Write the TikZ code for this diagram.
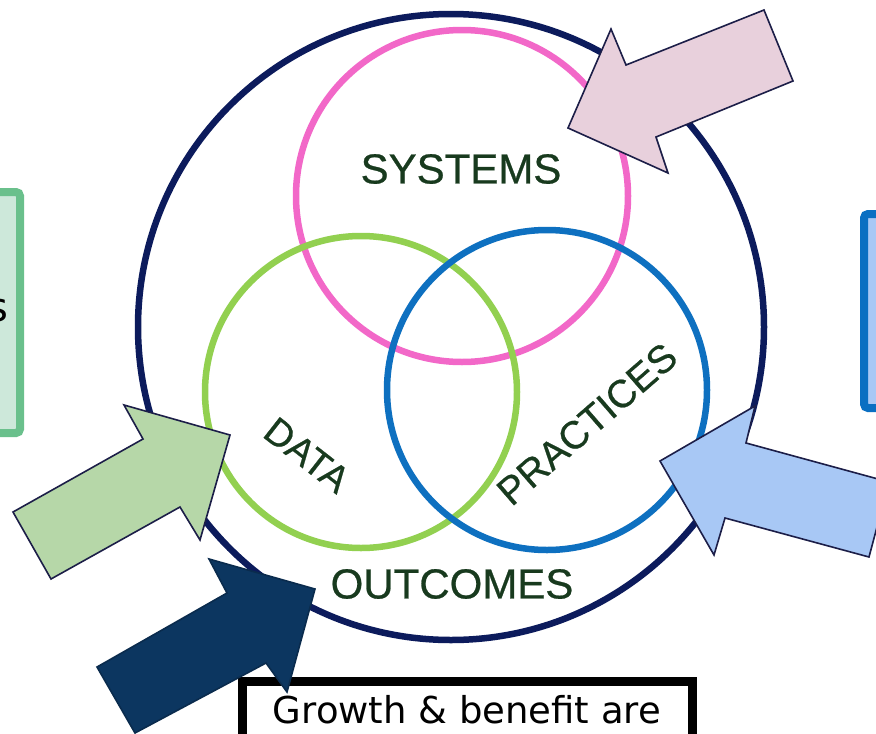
\documentclass[tikz,border=0pt]{standalone}
\usepackage{fontspec}
\setmainfont{Liberation Sans}
\newfontfamily\labelfont[FakeBold=0.6]{Liberation Sans}
\newfontfamily\boxfont{DejaVu Sans}
\definecolor{bignavy}{RGB}{12,27,92}
\definecolor{syspink}{RGB}{242,104,200}
\definecolor{datagreen}{RGB}{146,208,80}
\definecolor{pracblue}{RGB}{14,112,192}
\definecolor{labelgreen}{RGB}{24,58,30}
\definecolor{pinkfill}{RGB}{232,208,220}
\definecolor{greenfill}{RGB}{182,215,168}
\definecolor{bluefill}{RGB}{168,200,245}
\definecolor{navyfill}{RGB}{12,54,96}
\definecolor{arrowline}{RGB}{28,30,72}
\definecolor{gboxline}{RGB}{106,192,140}
\definecolor{gboxfill}{RGB}{205,232,218}
\definecolor{bboxline}{RGB}{10,111,194}
\tikzset{
  ring/.style={line width=6.5pt},
  vlabel/.style={text=labelgreen, font=\labelfont\fontsize{42}{48}\selectfont, inner sep=0pt},
  blockarrow/.style={draw=arrowline, line width=1.6pt, line join=miter},
  sidebox/.style={line width=8pt, rounded corners=4pt},
}
\begin{document}
\begin{tikzpicture}[x=1pt,y=-1pt]
\clip (0,0) rectangle (876,734);
\useasboundingbox (0,0) rectangle (876,734);
\fill[white] (0,0) rectangle (876,734);

% outer circle
\draw[ring, bignavy] (451,327) circle[radius=313];
% three circles
\draw[ring, syspink] (462,196) circle[radius=166];
\draw[ring, datagreen] (361,392) circle[radius=156];
\draw[ring, pracblue] (547,390) circle[radius=160];

% labels
\node[vlabel] (systems) at (461,169) {SYSTEMS};
\node[vlabel, rotate=-38, font=\labelfont\fontsize{38}{44}\selectfont] (data) at (307,455) {DATA};
\node[vlabel, rotate=41, font=\labelfont\fontsize{39}{44}\selectfont] (practices) at (587,424) {PRACTICES};
\node[vlabel] (outcomes) at (452,584) {OUTCOMES};

% side boxes
\draw[sidebox, draw=gboxline, fill=gboxfill] (-30,192) rectangle (20,433);
\node[anchor=base east, inner sep=0pt, font=\boxfont\fontsize{40}{46}\selectfont] (leftword) at (9,321) {s};
\draw[sidebox, draw=bboxline, fill=bluefill] (864,214) rectangle (920,408);

% bottom box
\draw[line width=9pt, black, fill=white] (242,681) rectangle (692,760);
\node[inner sep=0pt, font=\boxfont\fontsize{37}{44}\selectfont, anchor=base] (growth) at (467,723) {Growth \& benefit are};

% block arrows
\draw[blockarrow, fill=pinkfill] (568,128) -- (611,29) -- (626,65) -- (764,10) -- (793,81) -- (656,137) -- (668,173) -- cycle;
\draw[blockarrow, fill=greenfill] (230,435) -- (124,405) -- (143,439) -- (13,512) -- (51,579) -- (180,507) -- (200,540) -- cycle;
\draw[blockarrow, fill=navyfill, draw=navyfill!80!black] (315,589) -- (209,559) -- (227,593) -- (97,667) -- (135,733) -- (266,663) -- (287,692) -- cycle;
\draw[blockarrow, fill=bluefill] (660,461) -- (755,406) -- (746,443) -- (889,482) -- (869,557) -- (725,518) -- (714,555) -- cycle;
\end{tikzpicture}
\end{document}
